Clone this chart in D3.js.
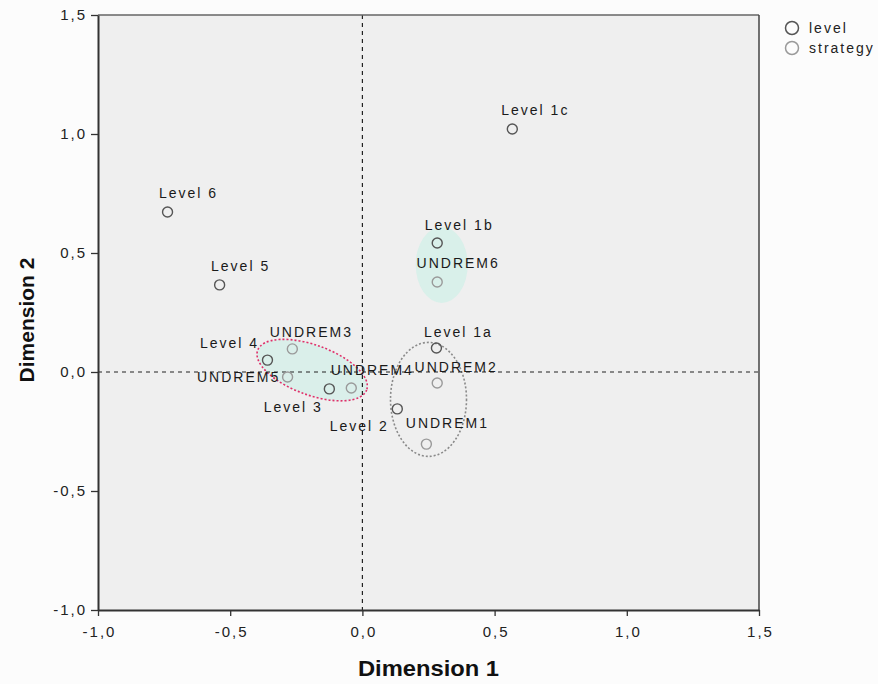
<!DOCTYPE html>
<html>
<head>
<meta charset="utf-8">
<script src="https://cdn.jsdelivr.net/npm/d3@7"></script>
<style>
  body { margin: 0; background: #fcfcfc; }
  text { font-family: "Liberation Sans", Arial, sans-serif; }
</style>
</head>
<body>
<div id="chart"></div>
<script>
// point data
var names = ["Level 1c", "Level 6", "Level 5", "Level 1b", "UNDREM6", "Level 1a", "UNDREM2",
             "UNDREM1", "Level 2", "Level 3", "UNDREM4", "UNDREM3", "Level 4", "UNDREM5"];
var kinds = ["level", "level", "level", "level", "strategy", "level", "strategy",
             "strategy", "level", "level", "strategy", "strategy", "level", "strategy"];
var dim1 = [0.567, -0.737, -0.540, 0.283, 0.283, 0.280, 0.283, 0.242, 0.132, -0.125, -0.042, -0.265, -0.359, -0.283];
var dim2 = [1.021, 0.672, 0.366, 0.542, 0.378, 0.101, -0.046, -0.303, -0.155, -0.071, -0.067, 0.097, 0.050, -0.021];

var xTicks = [-1.0, -0.5, 0.0, 0.5, 1.0, 1.5];
var yTicks = [-1.0, -0.5, 0.0, 0.5, 1.0, 1.5];
var legendItems = ["level", "strategy"];

// label placement (pixel offsets from the point: centre x, baseline y)
var labelOffsets = {
  "Level 1c": [22, -14], "Level 6": [20, -14], "Level 5": [20, -14], "Level 1b": [21, -13],
  "UNDREM6": [20, -14], "Level 1a": [21, -11], "UNDREM2": [18, -11], "UNDREM1": [20, -16],
  "Level 2": [-39, 22], "Level 3": [-37, 23], "UNDREM4": [20, -13], "UNDREM3": [18, -12],
  "Level 4": [-39, -12], "UNDREM5": [-50, 5]
};

var W = 878, H = 684;
var M = { left: 98, right: 119, top: 15, bottom: 74 };

var svg = d3.select("#chart").append("svg")
  .attr("width", W).attr("height", H);

var x = d3.scaleLinear().domain([-1, 1.5]).range([M.left, W - M.right]);
var y = d3.scaleLinear().domain([-1, 1.5]).range([H - M.bottom, M.top]);

// plot background
svg.append("rect")
  .attr("x", x(-1)).attr("y", y(1.5))
  .attr("width", x(1.5) - x(-1)).attr("height", y(-1) - y(1.5))
  .attr("fill", "#efefef");

// highlight shapes (annotations drawn over the plot)
var blobs = [
  { cx: 0.300, cy: 0.450, rx: 26, ry: 38, rot: 0, fill: "#d3f0e8", stroke: "none", dash: null },
  { cx: -0.190, cy: 0.008, rx: 58, ry: 25, rot: 20, fill: "#d4efe9", stroke: "#e0306a", dash: "2,2" },
  { cx: 0.250, cy: -0.115, rx: 38, ry: 57, rot: 0, fill: "none", stroke: "#8a8a8a", dash: "2,2" }
];
svg.selectAll(".blob").data(blobs).enter().append("ellipse")
  .attr("class", "blob")
  .attr("cx", 0).attr("cy", 0)
  .attr("rx", function(d) { return d.rx; })
  .attr("ry", function(d) { return d.ry; })
  .attr("transform", function(d) {
    return "translate(" + x(d.cx) + "," + y(d.cy) + ") rotate(" + d.rot + ")";
  })
  .attr("fill", function(d) { return d.fill; })
  .attr("fill-opacity", 0.8)
  .attr("stroke", function(d) { return d.stroke; })
  .attr("stroke-width", 1.6)
  .attr("stroke-dasharray", function(d) { return d.dash; });

// reference lines at 0
svg.append("line")
  .attr("x1", x(0)).attr("x2", x(0))
  .attr("y1", y(1.5)).attr("y2", y(-1))
  .attr("stroke", "#222").attr("stroke-width", 1.2).attr("stroke-dasharray", "4,4");
svg.append("line")
  .attr("x1", x(-1)).attr("x2", x(1.5))
  .attr("y1", y(0)).attr("y2", y(0))
  .attr("stroke", "#222").attr("stroke-width", 1.2).attr("stroke-dasharray", "4,4");

// frame
svg.append("line").attr("x1", x(-1)).attr("x2", x(1.5)).attr("y1", y(1.5)).attr("y2", y(1.5))
  .attr("stroke", "#666").attr("stroke-width", 1.5);
svg.append("line").attr("x1", x(1.5)).attr("x2", x(1.5)).attr("y1", y(1.5)).attr("y2", y(-1))
  .attr("stroke", "#444").attr("stroke-width", 1.5);

var fmt = function(d) { return d3.format(".1f")(d).replace(".", ",").replace("−", "-"); };

var xAxis = svg.append("g")
  .attr("transform", "translate(0," + y(-1) + ")")
  .call(d3.axisBottom(x).tickValues(xTicks).tickFormat(fmt).tickSize(6).tickPadding(10).tickSizeOuter(0));
var yAxis = svg.append("g")
  .attr("transform", "translate(" + x(-1) + ",0)")
  .call(d3.axisLeft(y).tickValues(yTicks).tickFormat(fmt).tickSize(7).tickPadding(4).tickSizeOuter(0));

[xAxis, yAxis].forEach(function(a) {
  a.select(".domain").attr("stroke", "#333").attr("stroke-width", 2);
  a.selectAll(".tick line").attr("stroke", "#333").attr("stroke-width", 1.3);
  a.selectAll(".tick text").attr("fill", "#222").style("font-size", "15px")
    .style("letter-spacing", "2px")
    .style("font-family", "'Liberation Sans', Arial, sans-serif");
});
xAxis.selectAll(".tick text").attr("dx", "1px");

// axis titles
svg.append("text")
  .attr("transform", "translate(" + (x(-1) + x(1.5)) / 2 + ",676) scale(1.08,1)")
  .attr("text-anchor", "middle")
  .style("font-size", "22px").style("font-weight", "bold").attr("fill", "#111")
  .text("Dimension 1");
svg.append("text")
  .attr("transform", "translate(34,320) rotate(-90)")
  .attr("text-anchor", "middle")
  .style("font-size", "21px").style("font-weight", "bold").attr("fill", "#111")
  .text("Dimension 2");

var colorOf = { level: "#555", strategy: "#9a9a9a" };

// points
var pts = names.map(function(n, i) {
  return { name: n, kind: kinds[i], d1: dim1[i], d2: dim2[i] };
});

svg.selectAll(".pt").data(pts).enter().append("circle")
  .attr("class", "pt")
  .attr("cx", function(d) { return x(d.d1); })
  .attr("cy", function(d) { return y(d.d2); })
  .attr("r", 5)
  .attr("fill", "none")
  .attr("stroke", function(d) { return colorOf[d.kind]; })
  .attr("stroke-width", 1.4);

svg.selectAll(".lbl").data(pts).enter().append("text")
  .attr("class", "lbl")
  .attr("x", function(d) { return x(d.d1) + labelOffsets[d.name][0] + 1; })
  .attr("y", function(d) { return y(d.d2) + labelOffsets[d.name][1]; })
  .attr("text-anchor", "middle")
  .style("font-size", "14px")
  .style("letter-spacing", "2px")
  .attr("fill", "#1a1a1a")
  .text(function(d) { return d.name; });

// legend
var leg = svg.selectAll(".leg").data(legendItems).enter().append("g")
  .attr("class", "leg")
  .attr("transform", function(d, i) { return "translate(792," + (28 + i * 20) + ")"; });
leg.append("circle").attr("r", 6.5).attr("fill", "none")
  .attr("stroke", function(d) { return colorOf[d]; }).attr("stroke-width", 1.5);
leg.append("text").attr("x", 17).attr("y", 5)
  .style("font-size", "14px").style("letter-spacing", "2px").attr("fill", "#222")
  .text(function(d) { return d; });
</script>
</body>
</html>
